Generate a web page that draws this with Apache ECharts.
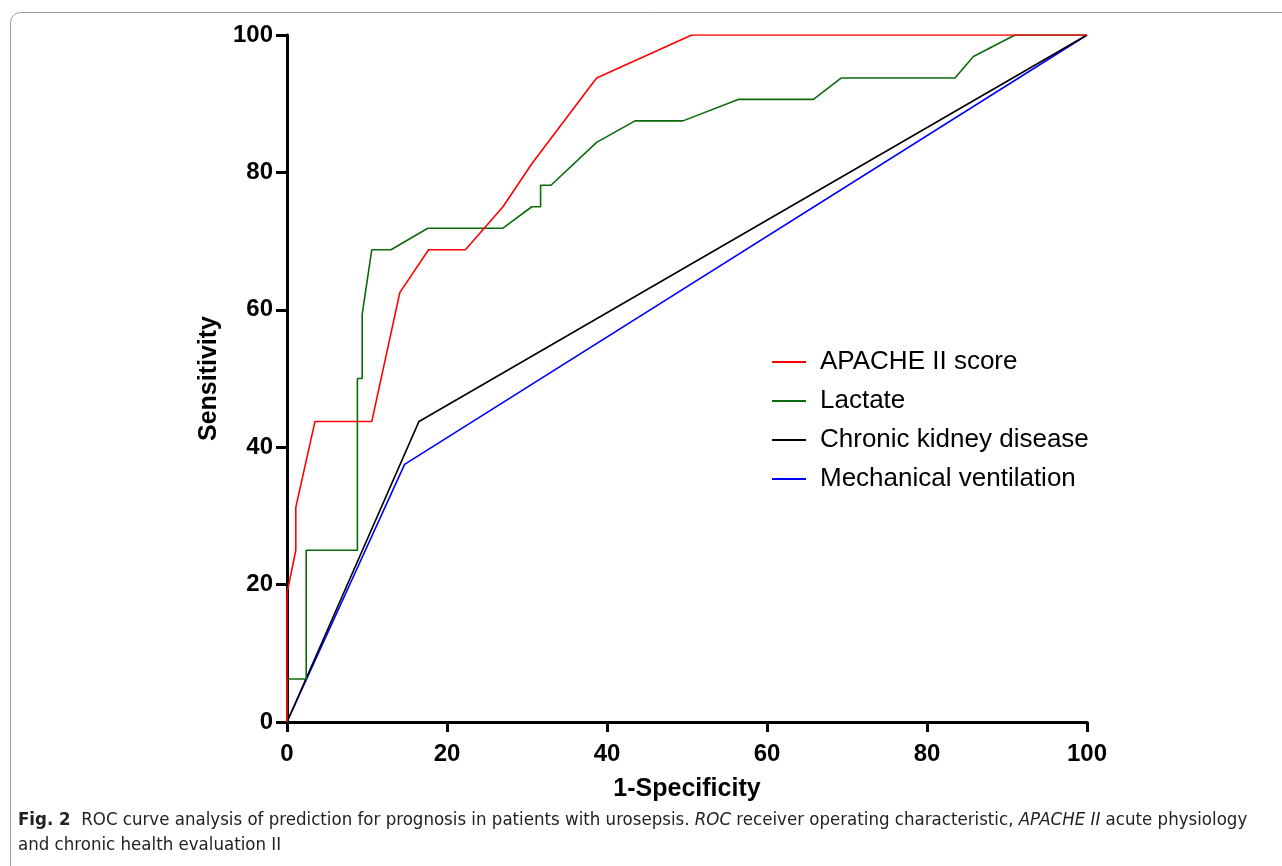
<!DOCTYPE html>
<html>
<head>
<meta charset="utf-8">
<script src="https://cdn.jsdelivr.net/npm/echarts@6/dist/echarts.min.js"></script>
<style>html,body{margin:0;padding:0;background:#fff;}#c{width:1282px;height:866px;}</style>
</head>
<body>
<div id="c"></div>
<script>
// ROC curve points [1-Specificity, Sensitivity]
var apache = [[0,0],[0,18.75],[1.1,25],[1.1,31.25],[3.5,43.75],[10.6,43.75],[14.1,62.5],[17.7,68.75],[22.3,68.75],[27.0,75],[30.6,81.25],[38.7,93.75],[50.6,100],[100,100]];
var lactate = [[0,0],[0,6.25],[2.4,6.25],[2.4,25],[8.8,25],[8.8,50],[9.4,50],[9.4,59.375],[10.6,68.75],[13.0,68.75],[17.6,71.875],[27.0,71.875],[30.6,75],[31.7,75],[31.7,78.125],[33.0,78.125],[38.7,84.375],[43.5,87.5],[49.5,87.5],[56.4,90.625],[65.8,90.625],[69.3,93.75],[83.5,93.75],[85.8,96.875],[91.0,100],[100,100]];
var ckd = [[0,0],[16.5,43.75],[100,100]];
var mv = [[0,0],[14.7,37.5],[100,100]];
var seriesNames = ['APACHE II score','Lactate','Chronic kidney disease','Mechanical ventilation'];
var seriesColors = ['#ff0000','#0b6b0b','#000000','#0000ff'];
var axisTicks = [0,20,40,60,80,100];

var chart = echarts.init(document.getElementById('c'));
var datas = [apache, lactate, ckd, mv];
var capFont = "'Liberation Sans Narrow','DejaVu Sans Condensed','Open Sans',sans-serif";
var mainFont = "'Liberation Sans', Arial, sans-serif";
chart.setOption({
  animation: false,
  grid: {left: 287, right: 195, top: 35, bottom: 144, containLabel: false},
  legend: {
    orient: 'vertical', left: 767, top: 344,
    icon: 'rect', itemWidth: 34, itemHeight: 2, itemGap: 13,
    textStyle: {fontFamily: mainFont, fontSize: 26, lineHeight: 26, color: '#000', padding:[0,0,0,9]},
    data: seriesNames
  },
  xAxis: {
    type: 'value', min: 0, max: 100, interval: 20,
    name: '1-Specificity', nameLocation: 'middle', nameGap: 55,
    nameTextStyle: {fontFamily: mainFont, fontSize: 25, fontWeight: 'bold', color: '#000'},
    axisLine: {show: true, lineStyle: {color: '#000', width: 3}},
    axisTick: {show: true, length: 10, lineStyle: {color: '#000', width: 3}},
    axisLabel: {fontFamily: mainFont, fontSize: 24, fontWeight: 'bold', color: '#000', margin: 20},
    splitLine: {show: false}
  },
  yAxis: {
    type: 'value', min: 0, max: 100, interval: 20,
    name: 'Sensitivity', nameLocation: 'middle', nameGap: 63,
    nameTextStyle: {fontFamily: mainFont, fontSize: 25, fontWeight: 'bold', color: '#000'},
    axisLine: {show: true, lineStyle: {color: '#000', width: 3}},
    axisTick: {show: true, length: 11, lineStyle: {color: '#000', width: 3}},
    axisLabel: {fontFamily: mainFont, fontSize: 24, fontWeight: 'bold', color: '#000', margin: 14},
    splitLine: {show: false}
  },
  series: datas.map(function(d, i){
    return {
      name: seriesNames[i], type: 'line', data: d, symbol: 'none',
      lineStyle: {color: seriesColors[i], width: 1.6},
      itemStyle: {color: seriesColors[i]},
      z: 10 - i
    };
  }),
  graphic: [
    {type: 'rect', left: 8, top: 10, shape: {width: 1290, height: 880, r: 10}, style: {fill: 'none', stroke: '#9a9a9a', lineWidth: 1}, silent: true},
    {type: 'text', left: 18, top: 811, style: {
      text: '{b|Fig. 2}  ROC curve analysis of prediction for prognosis in patients with urosepsis. {i|ROC} receiver operating characteristic, {i|APACHE II} acute physiology',
      fontFamily: capFont, fontSize: 18.5, fill: '#222',
      rich: {b: {fontWeight: 'bold', fontFamily: capFont, fontSize: 18.5, fill: '#222'}, i: {fontStyle: 'italic', fontFamily: capFont, fontSize: 18.5, fill: '#222'}}
    }},
    {type: 'text', left: 18, top: 836, style: {text: 'and chronic health evaluation II', fontFamily: capFont, fontSize: 18.5, fill: '#222'}}
  ]
});
</script>
</body>
</html>
